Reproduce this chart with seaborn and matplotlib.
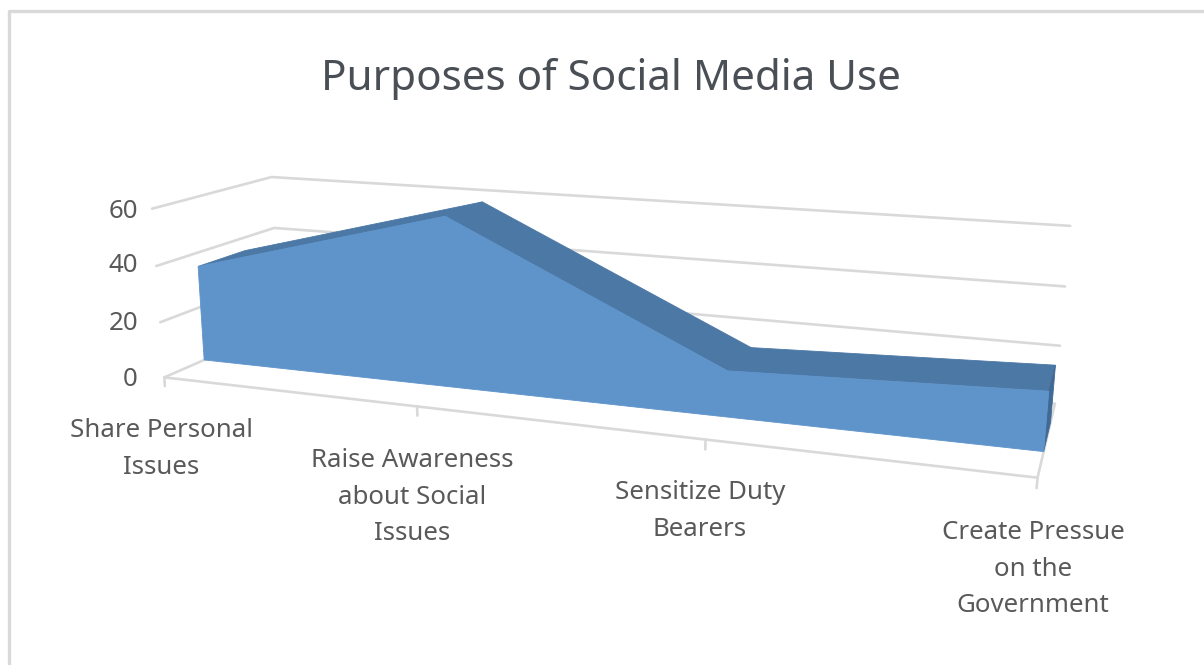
import numpy as np
import pandas as pd
import matplotlib
matplotlib.use("Agg")
import matplotlib.pyplot as plt
import seaborn as sns

title = "Purposes of Social Media Use"
categories = ["Share Personal\nIssues", "Raise Awareness\nabout Social\nIssues",
              "Sensitize Duty\nBearers", "Create Pressue\non the\nGovernment"]
values = [35, 59.5, 15.5, 19]
y_ticks = [0, 20, 40, 60]

# perspective camera calibrated on the reference's axis box: (category, value, depth) -> pixel
anchors_3d = [(0, 0, 0), (1, 0, 0), (2, 0, 0), (3, 0, 0), (0, 0, 1), (3, 0, 1),
              (0, 60, 0), (0, 40, 0), (0, 20, 0),
              (0, 60, 1), (3, 60, 1), (0, 40, 1), (3, 40, 1), (3, 20, 1)]
anchors_px = [(165, 377), (417, 407), (705, 440), (1038, 477), (278, 328), (1055, 403),
              (151, 209), (156, 266), (161, 322),
              (272, 177), (1070, 226), (275, 227), (1065, 287), (1060, 346)]
A, b = [], []
for (X, Y, Z), (u, v) in zip(anchors_3d, anchors_px):
    A.append([X, Y, Z, 1, 0, 0, 0, 0, -u * X, -u * Y, -u * Z]); b.append(u)
    A.append([0, 0, 0, 0, X, Y, Z, 1, -v * X, -v * Y, -v * Z]); b.append(v)
P = np.append(np.linalg.lstsq(np.array(A, float), np.array(b, float), rcond=None)[0], 1).reshape(3, 4)


def project(x, y, z):
    x, y, z = np.broadcast_arrays(np.asarray(x, float), np.asarray(y, float), np.asarray(z, float))
    h = P @ np.vstack([x.ravel(), y.ravel(), z.ravel(), np.ones(x.size)])
    return h[0] / h[2], h[1] / h[2]


GRID = "#d9d9d9"
FRONT = "#5f94cb"
TOP = "#4b78a5"
SIDE = "#3f6a96"
TEXT = "#595959"
Z_FRONT, Z_BACK = 0.32, 0.72

sns.set_theme(style="white")
plt.rcParams["font.family"] = ["Noto Sans", "DejaVu Sans"]
fig = plt.figure(figsize=(12.04, 6.65), dpi=100, facecolor="white")
ax = fig.add_axes([0, 0, 1, 1])
ax.set_xlim(0, 1204)
ax.set_ylim(665, 0)
ax.axis("off")

# chart frame: left and top edges only are in view
ax.plot([8.5, 8.5, 1204], [665, 10.5, 10.5], color="#d9d9d9", lw=2.4, solid_capstyle="butt")

# gridlines on side wall, back wall and floor
rows = []
last = len(values) - 1
for t in y_ticks:
    u, v = project([0, 0, last], [t, t, t], [0, 1, 1])
    rows += [dict(line=f"g{t}", order=i, u=u[i], v=v[i]) for i in range(3)]
u, v = project([0, last, last], [0, 0, 0], [0, 0, 1])
rows += [dict(line="front", order=i, u=u[i], v=v[i]) for i in range(3)]
for i in range(len(values)):
    u, v = project([i, i], [0, -3.2], [0, 0])
    rows += [dict(line=f"t{i}", order=j, u=u[j], v=v[j]) for j in range(2)]
sns.lineplot(data=pd.DataFrame(rows), x="u", y="v", units="line", estimator=None, sort=False,
             color=GRID, lw=1.9, ax=ax, legend=False)

cats = np.arange(len(values))
vals = np.array(values, float)

# top faces, drawn back to front
for i in range(len(values) - 1):
    u, v = project([i, i + 1, i + 1, i], [vals[i], vals[i + 1], vals[i + 1], vals[i]],
                   [Z_BACK, Z_BACK, Z_FRONT, Z_FRONT])
    ax.fill(u, v, color=TOP, lw=0.6, zorder=3)

# right side face
u, v = project([last] * 4, [vals[-1], vals[-1], 0, 0], [Z_FRONT, Z_BACK, Z_BACK, Z_FRONT])
ax.fill(u, v, color=SIDE, lw=0.6, zorder=3)

# front face
u1, v1 = project(cats, vals, Z_FRONT)
u0, v0 = project(cats[::-1], 0, Z_FRONT)
ax.fill(np.r_[u1, u0], np.r_[v1, v0], color=FRONT, lw=0.6, zorder=4)

ax.set_xlabel("")
ax.set_ylabel("")
ax.text(611, 79, title, ha="center", va="center", fontsize=30.3, color="#4a4f55")

tick_label_y = [380, 323, 266, 212]
for t, y in zip(y_ticks, tick_label_y):
    ax.text(138, y, str(t), ha="right", va="center", fontsize=18.6, color=TEXT)

label_xy = [(161, 449), (412, 497), (700, 511), (1033, 569)]
for name, (x, y) in zip(categories, label_xy):
    ax.text(x, y, name, ha="center", va="center", fontsize=18.6, color=TEXT, linespacing=1.59)

fig.savefig("out.png", dpi=100, facecolor="white")
